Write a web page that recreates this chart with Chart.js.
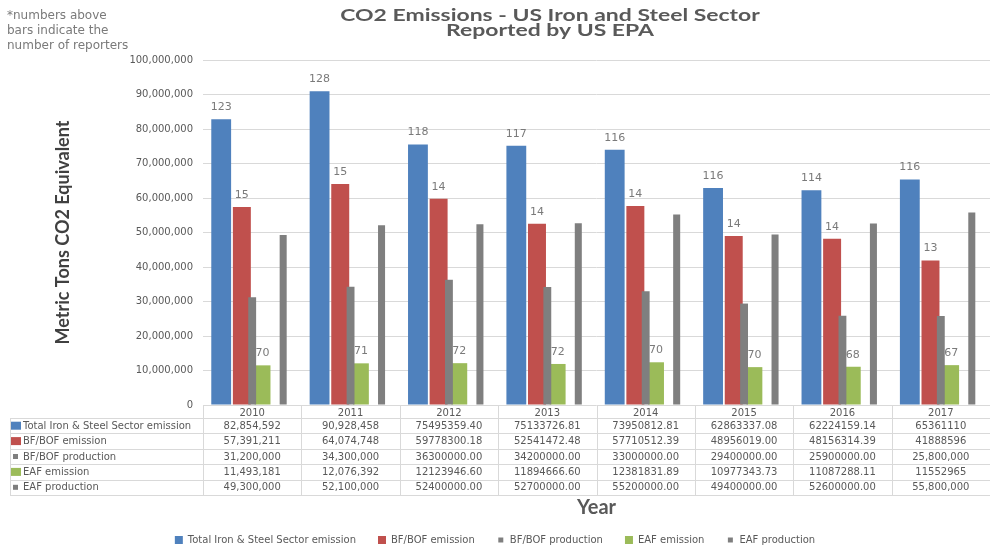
<!DOCTYPE html>
<html lang="en">
<head>
  <meta charset="UTF-8" />
  <title>CO2 Emissions - US Iron and Steel Sector</title>
  <script src="https://cdn.jsdelivr.net/npm/chart.js"></script>
  <style>
    html, body {
      margin: 0;
      padding: 0;
      background: #fff;
    }
    canvas {
      display: block;
    }
  </style>
</head>
<body>
  <canvas id="chart" width="990" height="546"></canvas>

  <script>
    const years = ['2010', '2011', '2012', '2013', '2014', '2015', '2016', '2017'];

    // values exactly as printed in the data table under the chart
    const totalEmission = ['82,854,592', '90,928,458', '75495359.40', '75133726.81', '73950812.81', '62863337.08', '62224159.14', '65361110'];
    const bfbofEmission = ['57,391,211', '64,074,748', '59778300.18', '52541472.48', '57710512.39', '48956019.00', '48156314.39', '41888596'];
    const bfbofProduction = ['31,200,000', '34,300,000', '36300000.00', '34200000.00', '33000000.00', '29400000.00', '25900000.00', '25,800,000'];
    const eafEmission = ['11,493,181', '12,076,392', '12123946.60', '11894666.60', '12381831.89', '10977343.73', '11087288.11', '11552965'];
    const eafProduction = ['49,300,000', '52,100,000', '52400000.00', '52700000.00', '55200000.00', '49400000.00', '52600000.00', '55,800,000'];

    // number of reporters, written above the bars
    const totalReporters = [123, 128, 118, 117, 116, 116, 114, 116];
    const bfbofReporters = [15, 15, 14, 14, 14, 14, 14, 13];
    const eafReporters = [70, 71, 72, 72, 70, 70, 68, 67];

    const yMax = 100000000;
    const yStep = 10000000;

    const BLUE = '#4f81bd';
    const RED = '#c0504d';
    const GREEN = '#9bbb59';
    const GRAY = '#7f7f7f';
    const TEXT = '#595959';

    const toNum = s => parseFloat(s.replace(/,/g, ''));

    const datasets = [
      { label: 'Total Iron & Steel Sector emission', cells: totalEmission, data: totalEmission.map(toNum),
        backgroundColor: BLUE, barPercentage: 0.96, reporters: totalReporters },
      { label: 'BF/BOF emission', cells: bfbofEmission, data: bfbofEmission.map(toNum),
        backgroundColor: RED, barPercentage: 0.87, reporters: bfbofReporters },
      { label: 'BF/BOF production', cells: bfbofProduction, data: bfbofProduction.map(toNum),
        backgroundColor: GRAY, grouped: false, categoryPercentage: 1, barPercentage: 0.08, order: -1, smallBox: true },
      { label: 'EAF emission', cells: eafEmission, data: eafEmission.map(toNum),
        backgroundColor: GREEN, barPercentage: 0.77, reporters: eafReporters },
      { label: 'EAF production', cells: eafProduction, data: eafProduction.map(toNum),
        backgroundColor: GRAY, barPercentage: 0.34, smallBox: true }
    ];

    // the picture is a bit stretched sideways, so the title is too
    function wideText(ctx, text, x, y, sx) {
      ctx.save();
      ctx.translate(x, y);
      ctx.scale(sx, 1);
      ctx.fillText(text, 0, 0);
      ctx.restore();
    }

    // titles, note, reporter counts and the data table
    const sheetPlugin = {
      id: 'sheet',
      afterDatasetsDraw(chart) {
        const ctx = chart.ctx;
        ctx.save();
        ctx.font = '11px "DejaVu Sans"';
        ctx.fillStyle = '#7a7a7a';
        ctx.textAlign = 'center';
        ctx.textBaseline = 'middle';
        chart.data.datasets.forEach((ds, i) => {
          if (!ds.reporters) return;
          chart.getDatasetMeta(i).data.forEach((bar, j) => {
            ctx.fillText(String(ds.reporters[j]), bar.x, bar.y - 12);
          });
        });
        ctx.restore();
      },
      afterDraw(chart) {
        const ctx = chart.ctx;
        const x = chart.scales.x;
        const rows = chart.data.datasets;
        const colW = (x.right - x.left) / years.length;
        const headTop = x.top;
        const rowTop = x.top + 13;
        const rowH = 15.4;
        const tableLeft = 10;
        const bottom = rowTop + rows.length * rowH;

        ctx.save();
        // grid of the table
        ctx.strokeStyle = '#d9d9d9';
        ctx.lineWidth = 1;
        ctx.beginPath();
        for (let r = 0; r <= rows.length; r++) {
          const y = Math.round(rowTop + r * rowH) + 0.5;
          ctx.moveTo(tableLeft, y);
          ctx.lineTo(x.right, y);
        }
        ctx.moveTo(tableLeft + 0.5, rowTop);
        ctx.lineTo(tableLeft + 0.5, bottom);
        for (let i = 0; i <= years.length; i++) {
          const xx = Math.round(x.left + i * colW) + 0.5;
          ctx.moveTo(xx, headTop);
          ctx.lineTo(xx, bottom);
        }
        ctx.stroke();

        // rows
        ctx.font = '10px "DejaVu Sans"';
        ctx.textBaseline = 'middle';
        rows.forEach((ds, r) => {
          const cy = rowTop + (r + 0.5) * rowH;
          ctx.fillStyle = ds.backgroundColor;
          if (ds.smallBox) ctx.fillRect(13, cy - 2.5, 5, 5);
          else ctx.fillRect(11, cy - 4, 10, 8);
          ctx.fillStyle = TEXT;
          ctx.textAlign = 'left';
          ctx.fillText(ds.label, 23, cy + 0.5);
          ctx.textAlign = 'center';
          ds.cells.forEach((c, j) => {
            ctx.fillText(c, x.getPixelForValue(j), cy + 0.5);
          });
        });

        // chart title
        ctx.fillStyle = TEXT;
        ctx.textAlign = 'center';
        ctx.font = 'bold 17px Lato';
        wideText(ctx, 'CO2 Emissions - US Iron and Steel Sector', 550, 16, 1.35);
        wideText(ctx, 'Reported by US EPA', 550, 31, 1.35);

        // note in the corner
        ctx.textAlign = 'left';
        ctx.font = '12px "DejaVu Sans"';
        ctx.fillStyle = '#7a7a7a';
        ctx.fillText('*numbers above', 7, 16);
        ctx.fillText('bars indicate the', 7, 31);
        ctx.fillText('number of reporters', 7, 46);
        ctx.restore();
      }
    };

    new Chart(document.getElementById('chart'), {
      type: 'bar',
      data: { labels: years, datasets: datasets },
      options: {
        responsive: false,
        animation: false,
        datasets: { bar: { categoryPercentage: 0.84 } },
        layout: { padding: { top: 60, left: 0, right: 0, bottom: -9 } },
        scales: {
          x: {
            grid: { display: false, drawTicks: false },
            border: { display: false },
            ticks: { color: TEXT, padding: 2, font: { family: 'DejaVu Sans', size: 10 } },
            title: {
              display: true,
              text: 'Year',
              color: TEXT,
              font: { family: 'Lato', size: 20, weight: 'bold' },
              padding: { top: 0, bottom: -7 }
            },
            afterFit: s => { s.height = 108; }
          },
          y: {
            min: 0,
            max: yMax,
            grid: { color: '#d9d9d9', drawTicks: false },
            border: { display: false },
            ticks: {
              stepSize: yStep,
              padding: 10,
              color: TEXT,
              font: { family: 'DejaVu Sans', size: 10 },
              callback: v => v.toLocaleString('en-US')
            },
            title: {
              display: true,
              text: 'Metric Tons CO2 Equivalent',
              color: '#404040',
              font: { family: 'Lato', size: 18, weight: 'bold' },
              padding: { top: 52, bottom: 0 }
            },
            afterFit: s => { s.width = 203; }
          }
        },
        plugins: {
          tooltip: { enabled: false },
          legend: {
            position: 'bottom',
            labels: {
              color: TEXT,
              font: { family: 'DejaVu Sans', size: 10 },
              boxWidth: 8,
              boxHeight: 8,
              padding: 22,
              sort: (a, b) => a.datasetIndex - b.datasetIndex,
              generateLabels(chart) {
                const items = Chart.defaults.plugins.legend.labels.generateLabels(chart);
                items.forEach(it => {
                  if (chart.data.datasets[it.datasetIndex].smallBox) {
                    it.strokeStyle = '#fff';
                    it.lineWidth = 3;
                  } else {
                    it.lineWidth = 0;
                  }
                });
                return items;
              }
            }
          }
        }
      },
      plugins: [sheetPlugin]
    });
  </script>
</body>
</html>
